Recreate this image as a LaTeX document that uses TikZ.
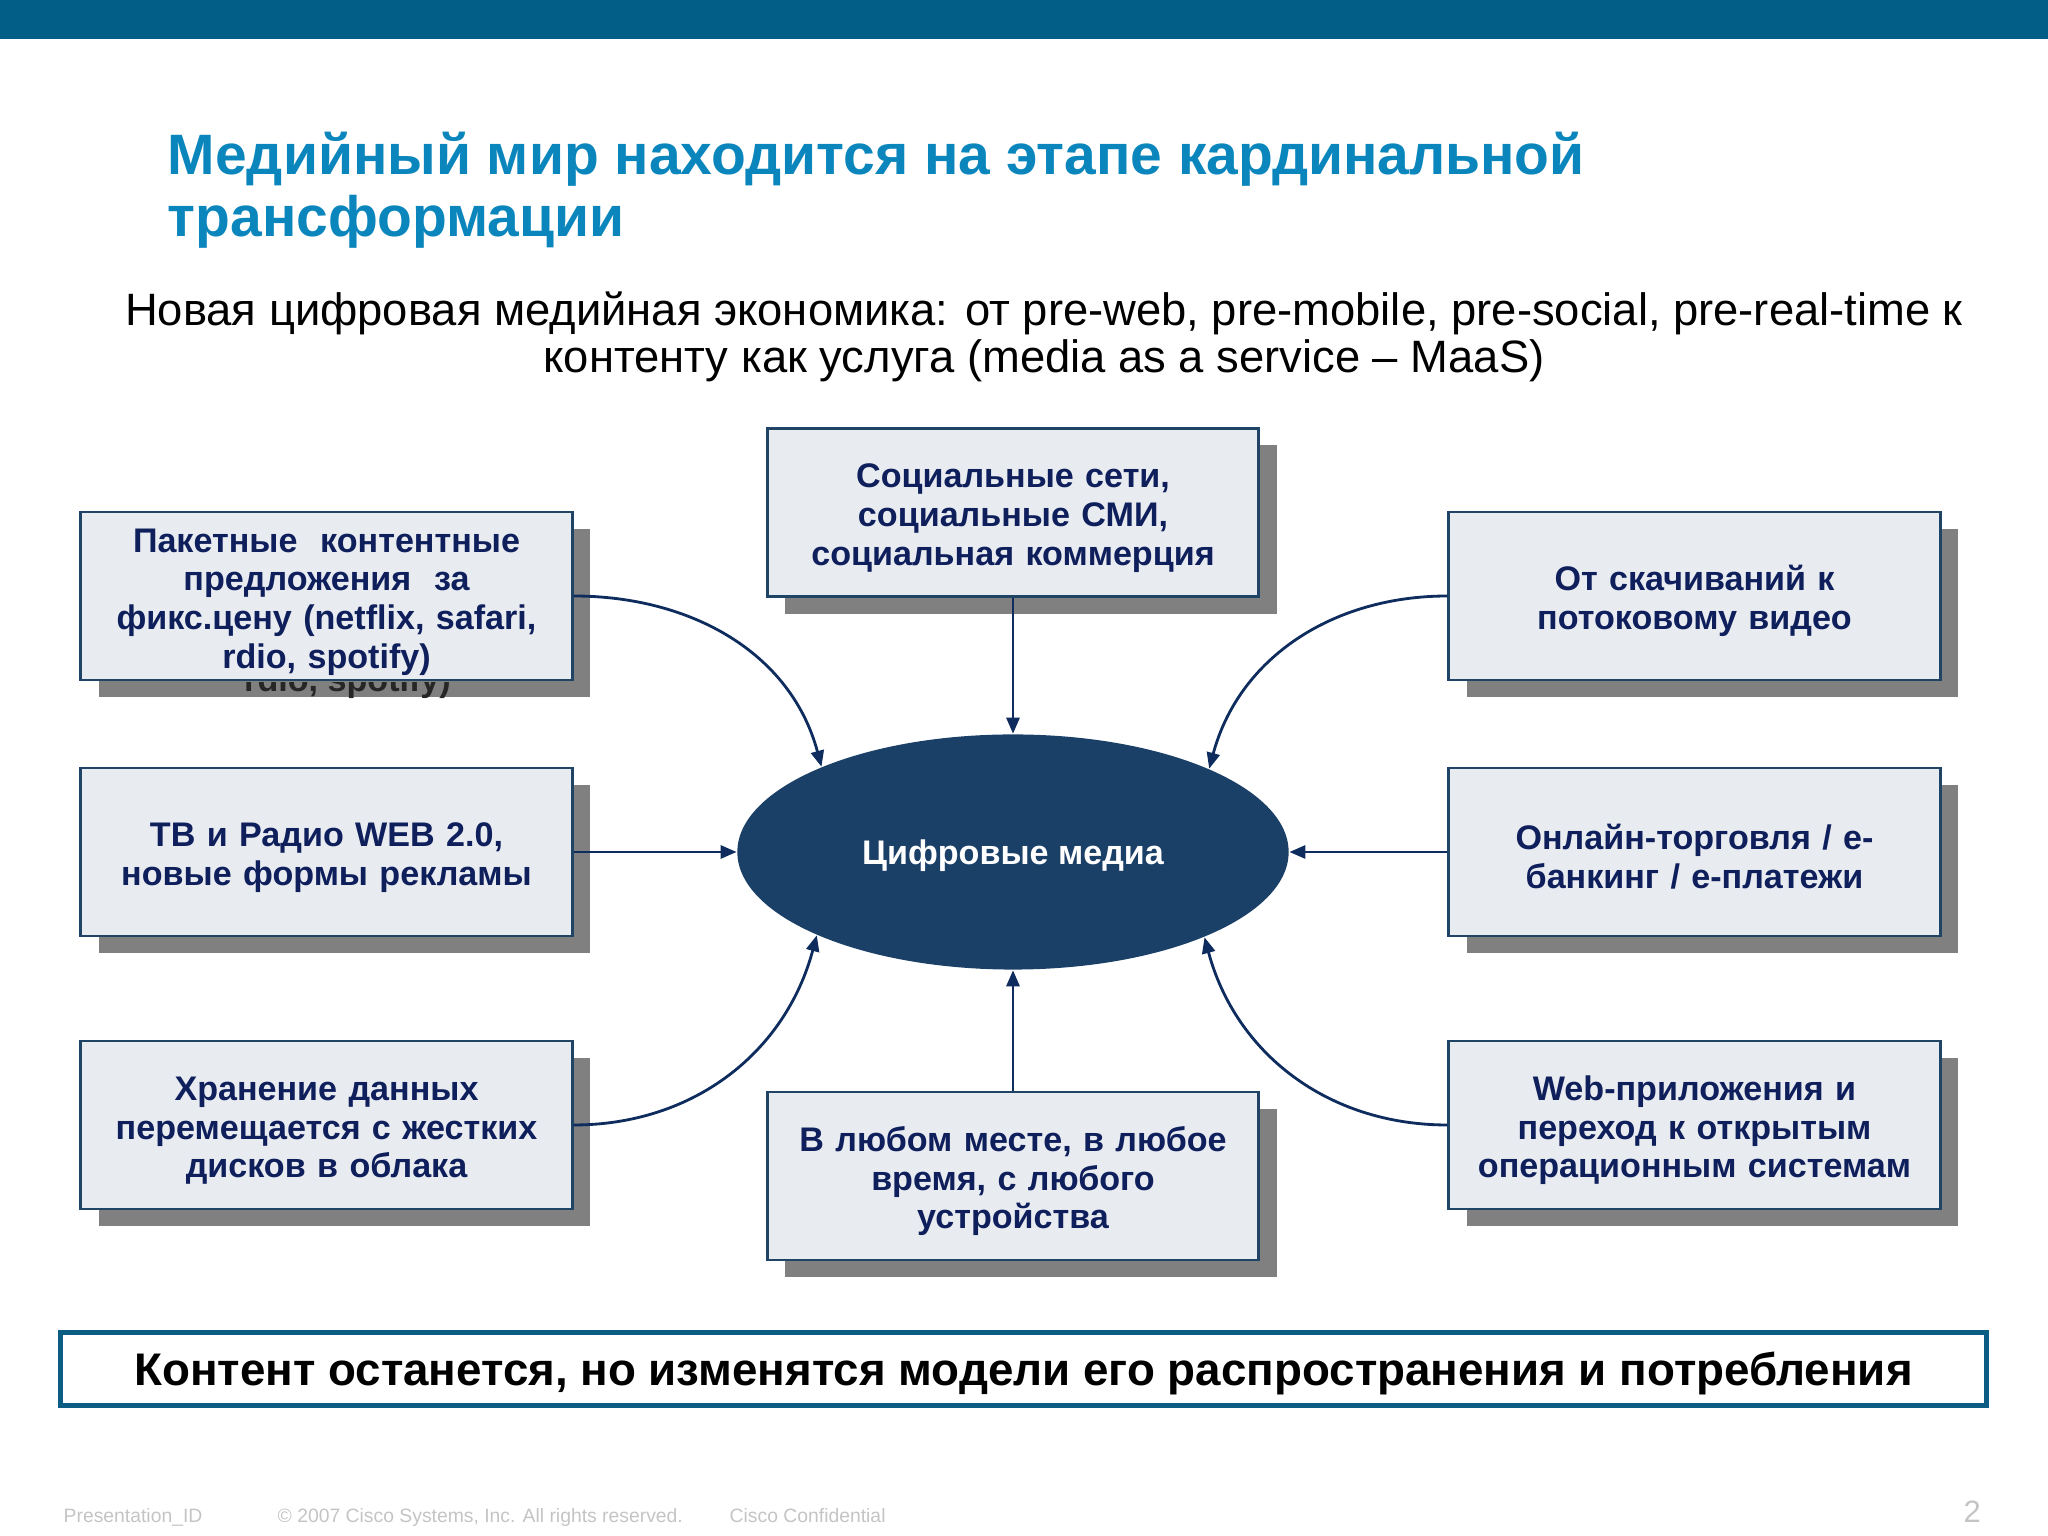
\documentclass[tikz,border=0pt]{standalone}
\usepackage{fontspec}
\setmainfont{Liberation Sans}
\usetikzlibrary{positioning,shapes.geometric,shadows,arrows.meta}

\definecolor{ciscobar}{HTML}{035E87}
\definecolor{titleblue}{HTML}{0A86BC}
\definecolor{boxfill}{HTML}{E8EBF0}
\definecolor{boxline}{HTML}{1F4466}
\definecolor{boxtext}{HTML}{0E1F5C}
\definecolor{shadowgray}{HTML}{808080}
\definecolor{hubfill}{HTML}{1B4068}
\definecolor{bannerline}{HTML}{0B5D84}
\definecolor{footgray}{HTML}{C4C4C4}
\definecolor{arrowblue}{HTML}{0E2C5E}

\begin{document}
\begin{tikzpicture}[
  x=0.01cm, y=0.01cm,
  infobox/.style={draw=boxline, line width=0.8pt, fill=boxfill, text=boxtext,
    minimum width=4.91cm, minimum height=1.68cm, inner sep=0pt,
    text width=4.7cm, align=center,
    font=\fontsize{9.7}{11}\selectfont\bfseries,
    execute at begin node={\rule{0pt}{10pt}},
    drop shadow={shadow xshift=0.18cm, shadow yshift=-0.17cm, fill=shadowgray, opacity=1}},
  hub/.style={ellipse, fill=hubfill, text=white, minimum width=5.51cm,
    minimum height=2.35cm, inner sep=0pt, text depth=0pt,
    font=\fontsize{9.7}{11}\selectfont\bfseries},
  arr/.style={-{Triangle[length=0.16cm, width=0.13cm]}, line width=0.8pt, arrowblue},
  foot/.style={anchor=base west, inner sep=0pt, text=footgray, font=\fontsize{5.5}{6}\selectfont}
]
  \useasboundingbox (0,0) rectangle (2048,1536);
  \fill[ciscobar] (0,1497) rectangle (2048,1536);

  % title and subtitle
  \node[anchor=base west, inner sep=0pt, text=titleblue, font=\fontsize{16.2}{19}\selectfont\bfseries]
    (title1) at (167,1361) {Медийный мир находится на этапе кардинальной};
  \node[anchor=base west, inner sep=0pt, text=titleblue, font=\fontsize{16.2}{19}\selectfont\bfseries]
    (title2) at (167,1299) {трансформации};
  \node[anchor=base, inner sep=0pt, font=\fontsize{12.9}{15}\selectfont]
    (sub1) at (1044,1210) {Новая цифровая медийная экономика: от pre-web, pre-mobile, pre-social, pre-real-time к};
  \node[anchor=base, inner sep=0pt, font=\fontsize{12.9}{15}\selectfont]
    (sub2) at (1044,1163) {контенту как услуга (media as a service -- MaaS)};

  % boxes round the hub
  \node[infobox] (pkg) at (326.5,940) {Пакетные\ \ контентные\\предложения\ \ за\\фикс.цену (netflix, safari,\\rdio, spotify)};
  \begin{scope}
    \clip ([yshift=-0.4pt]pkg.south west) rectangle ([xshift=0.3cm, yshift=-0.4cm]pkg.south east);
    \node[anchor=base, inner sep=0pt, text=black!85, font=\fontsize{9.7}{11}\selectfont\bfseries]
      (pkg-ghost) at ([xshift=0.21cm, yshift=-0.10cm]pkg.south) {rdio, spotify)};
  \end{scope}
  \node[infobox] (tv) at (326.5,684) {ТВ и Радио WEB 2.0,\\новые формы рекламы};
  \node[infobox] (cloud) at (326.5,411) {Хранение данных\\перемещается с жестких\\дисков в облака};
  \node[infobox] (social) at (1013,1023.5) {Социальные сети,\\социальные СМИ,\\социальная коммерция};
  \node[infobox] (anywhere) at (1013,360) {В любом месте, в любое\\время, с любого\\устройства};
  \node[infobox] (stream) at (1694.5,940) {От скачиваний к\\потоковому видео};
  \node[infobox] (shop) at (1694.5,684) {Онлайн-торговля / е-\\банкинг / е-платежи};
  \node[infobox] (webapp) at (1694.5,411) {Web-приложения и\\переход к открытым\\операционным системам};

  \node[hub] (hub) at (1013,684) {Цифровые медиа};

  % connectors
  \draw[arr] (social) -- (hub);
  \draw[arr] (anywhere) -- (hub);
  \draw[arr] (tv) -- (hub);
  \draw[arr] (shop) -- (hub);
  \draw[arr] (pkg.east) to[out=0, in=105] (hub.156.4);
  \draw[arr] (cloud.east) to[out=0, in=255] (hub.203.6);
  \draw[arr] (stream.west) to[out=180, in=75] (hub.23.6);
  \draw[arr] (webapp.west) to[out=180, in=285] (hub.336.4);

  % banner and footer
  \node[draw=bannerline, line width=1.4pt, minimum width=19.24cm, minimum height=0.73cm,
    text depth=0pt, font=\fontsize{13}{15}\selectfont\bfseries] (banner) at (1023.5,167)
    {Контент останется, но изменятся модели его распространения и потребления};
  \node[foot] (f-id) at (63,13) {Presentation\_ID};
  \node[foot] (f-copy) at (277,13) {© 2007 Cisco Systems, Inc. All rights reserved.};
  \node[foot] (f-conf) at (729,13) {Cisco Confidential};
  \node[foot, font=\fontsize{8.8}{10}\selectfont] (f-page) at (1963,13) {2};
\end{tikzpicture}
\end{document}
